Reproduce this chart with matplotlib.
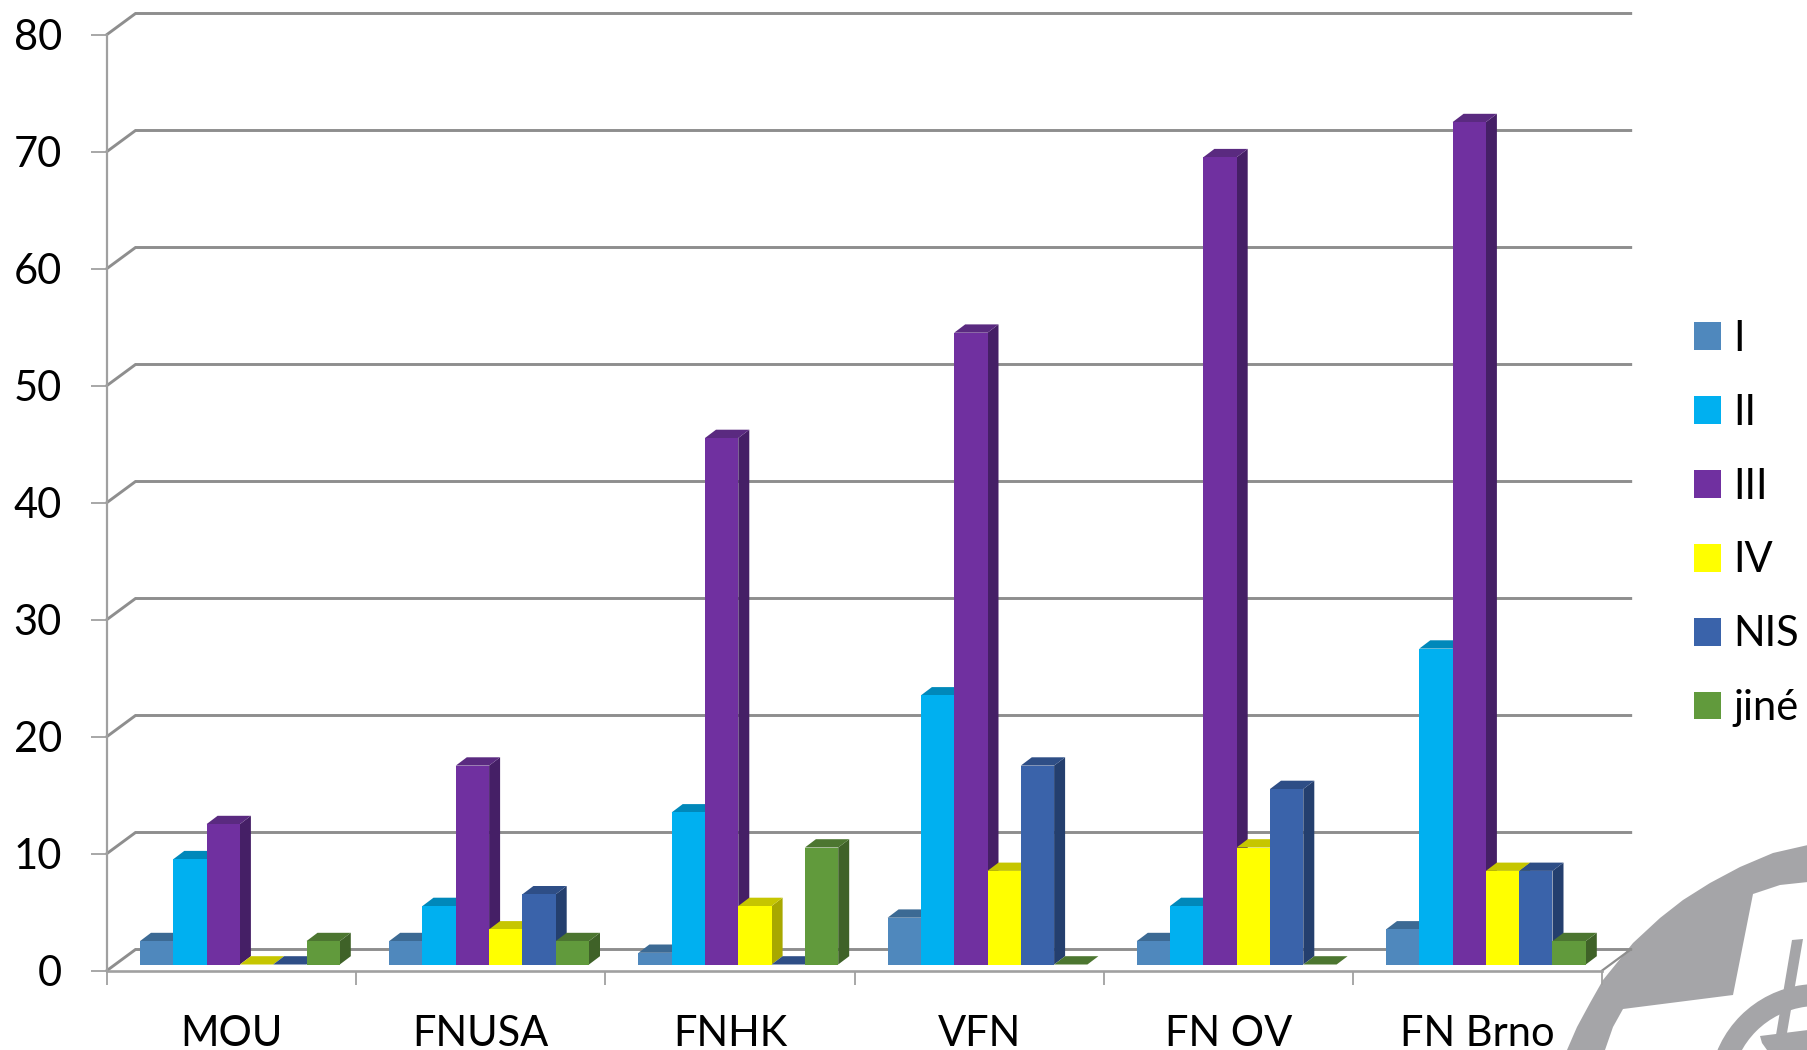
import matplotlib
matplotlib.use("Agg")
import matplotlib.pyplot as plt
import numpy as np
from matplotlib.patches import Polygon, Wedge
from matplotlib.transforms import Affine2D

plt.rcParams['font.family'] = ['Lato', 'DejaVu Sans']

# data
hospitals = ['MOU', 'FNUSA', 'FNHK', 'VFN', 'FN OV', 'FN Brno']
y_ticks = [0, 10, 20, 30, 40, 50, 60, 70, 80]
series_names = ['I', 'II', 'III', 'IV', 'NIS', 'jiné']
val_i = [2, 2, 1, 4, 2, 3]
val_ii = [9, 5, 13, 23, 5, 27]
val_iii = [12, 17, 45, 54, 69, 72]
val_iv = [0, 3, 5, 8, 10, 8]
val_nis = [0, 6, 0, 17, 15, 8]
val_jine = [2, 2, 10, 0, 0, 2]
all_vals = [val_i, val_ii, val_iii, val_iv, val_nis, val_jine]

front_cols = ['#4F88BD', '#00B0F0', '#7030A0', '#FFFF00', '#3A63AA', '#619A3C']
top_cols = ['#3C6A94', '#0088BA', '#5A2A80', '#C6C600', '#2E4E86', '#4C7630']
side_cols = ['#34597C', '#006F98', '#451F66', '#A8A800', '#243F6E', '#3F6228']

W, H = 1808, 1050
px_x = 249.2  # pixels per category
px_y = 11.7   # pixels per unit
x0, y0 = 107, 970.5

fig = plt.figure(figsize=(W / 100, H / 100), dpi=100)
ax = fig.add_axes([0, 0, 1, 1])
ax.set_xlim(-x0 / px_x, (W - x0) / px_x)
ax.set_ylim(-(H - y0) / px_y, y0 / px_y)
ax.patch.set_visible(False)

# logo in the corner, pixel coordinates
to_px = Affine2D().scale(1, -1).translate(0, H)
grey = '#A5A5A8'
logo = [(1567, 1050), (1577, 1027), (1590, 1003), (1603, 980), (1633, 943), (1660, 918),
        (1683, 900), (1710, 883), (1740, 867), (1773, 853), (1808, 845), (1808, 882),
        (1780, 885), (1753, 894), (1733, 995), (1623, 1009), (1613, 1027), (1605, 1050)]
fig.add_artist(Polygon(logo, closed=True, fc=grey, ec='none', transform=to_px, zorder=0))
fig.add_artist(Wedge((1817, 1092), 108, 150, 300, width=22, fc=grey, ec='none',
                     transform=to_px, zorder=0))
spoke = [(1792, 940), (1803, 939), (1787, 1033), (1776, 1035)]
fig.add_artist(Polygon(spoke, closed=True, fc=grey, ec='none', transform=to_px, zorder=0))
hub = [(1760, 1036), (1808, 1030), (1808, 1050), (1767, 1050), (1762, 1043)]
fig.add_artist(Polygon(hub, closed=True, fc=grey, ec='none', transform=to_px, zorder=0))

# walls
wall_dx = 28.5 / px_x
wall_dy = 21 / px_y
grid_col = '#8E8E8E'
for v in y_ticks:
    ax.plot([0, wall_dx, 6 + wall_dx], [v, v + wall_dy, v + wall_dy], color=grid_col, lw=2.1,
            solid_joinstyle='miter', zorder=1)
ax.plot([6, 6 + wall_dx], [0, wall_dy], color=grid_col, lw=1.6, zorder=1)

# bars with fake depth
bar_w = 33.3 / px_x
start = 33 / px_x
floor = 6 / px_y
depth_x = 11 / px_x
depth_y = 8.3 / px_y
x = np.arange(len(hospitals))
for s, vals in enumerate(all_vals):
    left = x + start + s * bar_w
    z = 3 + s
    for l, v in zip(left, vals):
        b = floor + v
        ax.add_patch(Polygon([(l + bar_w, floor), (l + bar_w + depth_x, floor + depth_y),
                              (l + bar_w + depth_x, b + depth_y), (l + bar_w, b)],
                             fc=side_cols[s], ec='none', zorder=z))
        ax.add_patch(Polygon([(l, b), (l + depth_x, b + depth_y),
                              (l + bar_w + depth_x, b + depth_y), (l + bar_w, b)],
                             fc=top_cols[s], ec='none', zorder=z))
    ax.bar(left, vals, bar_w, bottom=floor, align='edge', color=front_cols[s],
           label=series_names[s], zorder=z)

# axes lines
for side in ['top', 'right']:
    ax.spines[side].set_visible(False)
ax.spines['left'].set_position(('data', 0))
ax.spines['bottom'].set_position(('data', 0))
ax.spines['left'].set_bounds(0, 80)
ax.spines['bottom'].set_bounds(0, 6)
ax.spines['left'].set_color('#A0A0A0')
ax.spines['bottom'].set_color('#A0A0A0')
ax.spines['left'].set_linewidth(1.6)
ax.spines['bottom'].set_linewidth(1.9)
ax.spines['left'].set_zorder(2)
ax.spines['bottom'].set_zorder(2)

ax.set_yticks(y_ticks)
ax.tick_params(axis='y', which='major', length=11.5, width=1.3, color='#A0A0A0', pad=21,
               labelsize=30)
for lab in ax.get_yticklabels():
    lab.set_verticalalignment('center_baseline')
ax.set_xticks(x + 0.5)
ax.set_xticklabels(hospitals)
ax.tick_params(axis='x', which='major', length=0, pad=32, labelsize=30)
ax.set_xticks(np.arange(7), minor=True)
ax.tick_params(axis='x', which='minor', length=10, width=1.3, color='#A0A0A0')

ax.legend(loc='center left', bbox_to_anchor=(1694 / W, 1 - 523.5 / H), bbox_transform=fig.transFigure,
          frameon=False, fontsize=30, handlelength=0.65, handleheight=0.65, handletextpad=0.3,
          labelspacing=0.86, borderpad=0, borderaxespad=0)

fig.savefig('out.png', dpi=100)
